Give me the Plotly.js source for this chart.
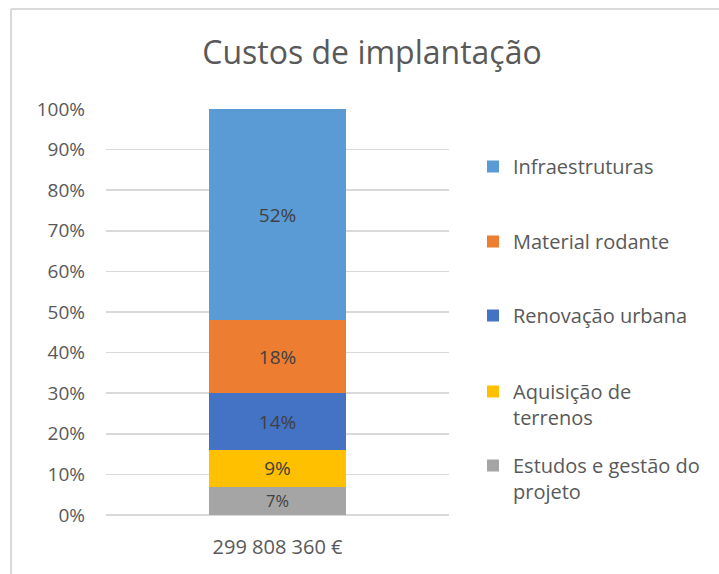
<!DOCTYPE html>
<html>
<head>
<meta charset="utf-8">
<script src="https://cdn.plot.ly/plotly-3.0.1.min.js"></script>
<style>html,body{margin:0;padding:0;background:#fff;}#chart{width:719px;height:574px;}</style>
</head>
<body>
<div id="chart"></div>
<script>
const categories = ['299 808 360 €'];
const seriesNames = ['Estudos e gestão do<br>projeto', 'Aquisição de<br>terrenos', 'Renovação urbana', 'Material rodante', 'Infraestruturas'];
const seriesValues = [7, 9, 14, 18, 52];
const seriesColors = ['#A5A5A5', '#FFC000', '#4472C4', '#ED7D31', '#5B9BD5'];
const yTickVals = [0, 10, 20, 30, 40, 50, 60, 70, 80, 90, 100];

const FONT = 'Open Sans, Noto Sans, sans-serif';
const W = 719, H = 574;
const L = 106, R = 270, T = 109, B = 59;
const PW = W - L - R, PH = H - T - B;
function px(x) { return (x - L) / PW; }
function py(y) { return (H - B - y) / PH; }

const legendIds = ['legend5', 'legend4', 'legend3', 'legend2', 'legend'];
const legendTops = [446, 372, 296, 222, 147];

const traces = seriesNames.map((name, i) => ({
  type: 'bar',
  x: categories,
  y: [seriesValues[i]],
  name: name,
  marker: {color: seriesColors[i]},
  width: 0.4,
  texttemplate: '%{y}%',
  textposition: 'inside',
  insidetextanchor: 'middle',
  textangle: 0,
  textfont: {family: FONT, size: 19, color: '#404040'},
  hoverinfo: 'skip',
  legend: legendIds[i]
}));

const layout = {
  width: W, height: H,
  margin: {l: L, r: R, t: T, b: B},
  paper_bgcolor: '#ffffff',
  plot_bgcolor: '#ffffff',
  barmode: 'stack',
  font: {family: FONT, color: '#595959'},
  title: {
    text: 'Custos de implantação',
    font: {family: FONT, size: 32, color: '#595959'},
    x: px(372), xref: 'paper', xanchor: 'center',
    y: 1 - 53 / H, yref: 'container', yanchor: 'middle'
  },
  xaxis: {
    type: 'category',
    range: [-0.5, 0.5],
    showgrid: false, showline: false, zeroline: false,
    ticks: '',
    ticklabelstandoff: 18,
    tickfont: {family: FONT, size: 20, color: '#595959'},
    fixedrange: true
  },
  yaxis: {
    range: [0, 100],
    tickvals: yTickVals,
    ticktext: yTickVals.map(v => v + '%'),
    showgrid: true, gridcolor: '#d9d9d9', gridwidth: 1.5,
    zeroline: true, zerolinecolor: '#d9d9d9', zerolinewidth: 2,
    showline: false, ticks: '',
    ticklabelstandoff: 20,
    tickfont: {family: FONT, size: 19, color: '#595959'},
    fixedrange: true
  },
  showlegend: true,
  shapes: [
    {type: 'line', xref: 'paper', yref: 'paper', x0: px(11), x1: px(740), y0: py(9), y1: py(9), line: {color: '#d9d9d9', width: 2}},
    {type: 'line', xref: 'paper', yref: 'paper', x0: px(11), x1: px(11), y0: py(9), y1: py(600), line: {color: '#d9d9d9', width: 2}}
  ]
};

legendIds.forEach((id, i) => {
  layout[id] = {
    x: px(473), xanchor: 'left',
    y: py(legendTops[i]), yanchor: 'top',
    bgcolor: 'rgba(0,0,0,0)',
    font: {family: FONT, size: 20, color: '#595959'},
    valign: 'top',
    itemwidth: 30
  };
});

Plotly.newPlot('chart', traces, layout, {staticPlot: true, displayModeBar: false});
</script>
</body>
</html>
